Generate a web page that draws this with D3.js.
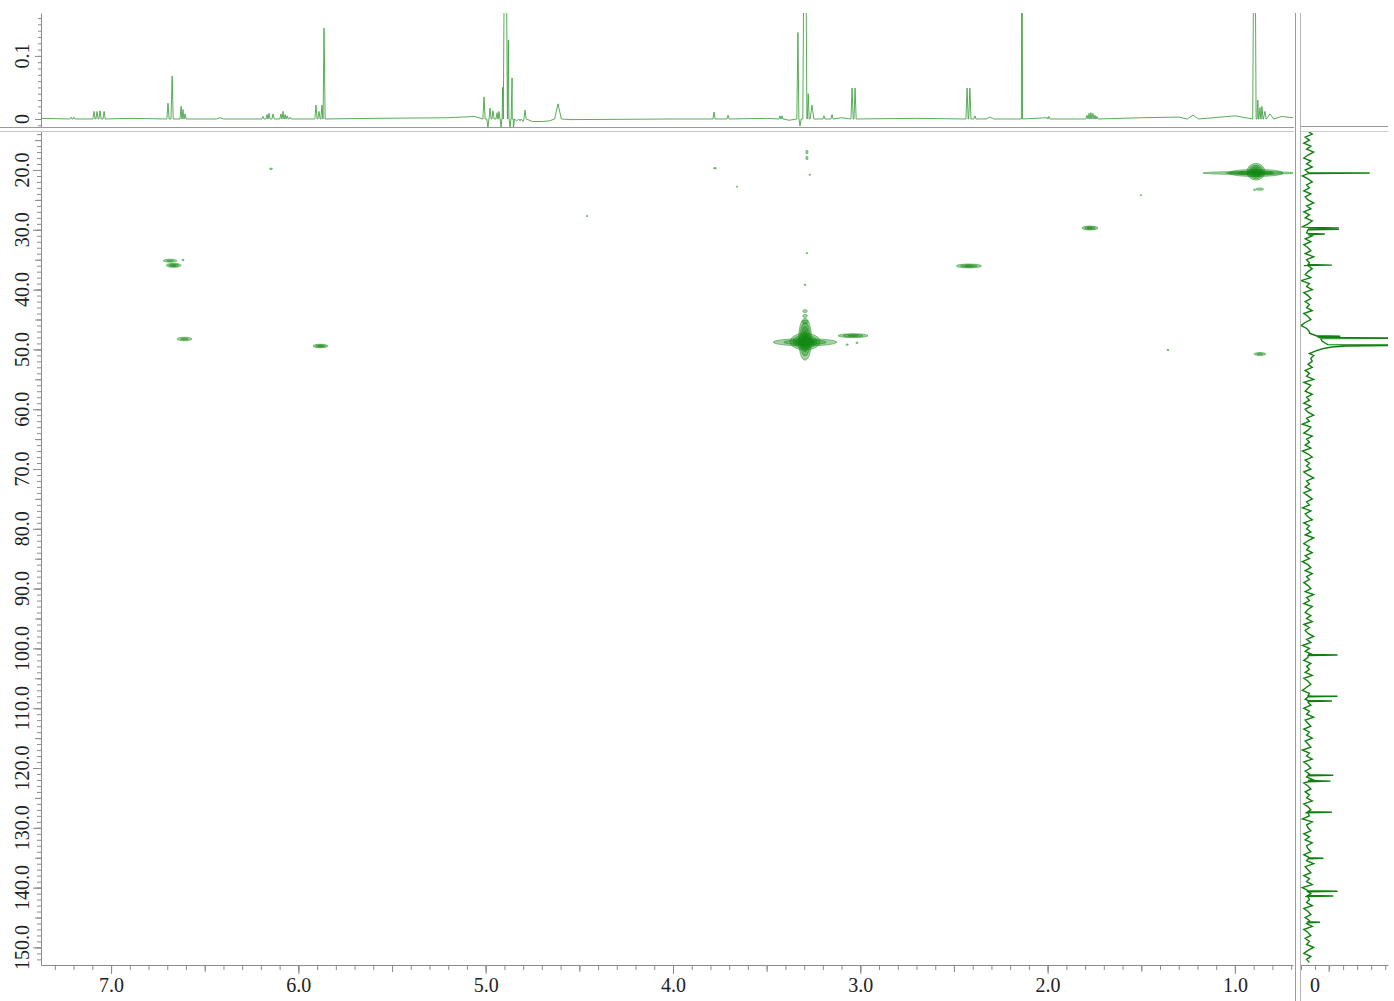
<!DOCTYPE html>
<html>
<head>
<meta charset="utf-8">
<script src="https://cdn.jsdelivr.net/npm/d3@7"></script>
<style>
  body { margin: 0; background: #fff; }
  svg { display: block; }
</style>
</head>
<body>
<div class="chart"></div>
<script>
const width = 1394;
const height = 1001;
const serif = '"Liberation Serif", "DejaVu Serif", serif';

// 1H projection (top trace): baseline points [ppm, intensity]
const hBaseline = [
  [7.374, 0.001], [6.9, 0.001], [6.3, 0.0], [5.6, 0.001], [5.2, 0.002], [5.06, 0.004],
  [4.835, -0.003], [4.80, -0.004], [4.75, -0.004], [4.70, -0.004], [4.66, -0.003],
  [4.55, -0.001], [4.0, 0.0], [3.5, 0.001], [3.38, -0.002],
  [3.1, 0.002], [2.7, 0.001], [2.0, 0.002], [1.5, 0.002], [1.3, 0.003], [1.0, 0.005],
  [0.75, 0.004], [0.69, 0.002]
];
// 1H peaks [ppm, height, half base width]
const hPeaks = [
  [7.214, 0.003], [7.198, 0.003],
  [7.091, 0.012], [7.075, 0.012], [7.059, 0.013], [7.037, 0.012],
  [6.696, 0.025], [6.674, 0.068], [6.626, 0.02], [6.616, 0.015], [6.605, 0.008],
  [6.418, 0.002, 0.02],
  [6.189, 0.004], [6.167, 0.007], [6.157, 0.009], [6.135, 0.008], [6.093, 0.008],
  [6.082, 0.012], [6.071, 0.007], [6.060, 0.005], [6.044, 0.003],
  [5.906, 0.022], [5.890, 0.012], [5.874, 0.022], [5.863, 0.144],
  [5.009, 0.035], [4.988, -0.013], [4.977, 0.017], [4.961, 0.013], [4.939, 0.010],
  [4.929, 0.012], [4.918, -0.013], [4.910, 0.05, 0.004], [4.895, 0.5, 0.011],
  [4.879, 0.125, 0.004], [4.870, -0.013], [4.859, 0.065], [4.852, -0.015],
  [4.817, -0.003], [4.790, 0.014],
  [4.614, 0.024, 0.018],
  [3.781, 0.011], [3.706, 0.006],
  [3.429, 0.005], [3.418, 0.005],
  [3.333, 0.137], [3.322, -0.011], [3.296, 0.5, 0.011], [3.278, 0.04, 0.005],
  [3.258, 0.022, 0.01], [3.194, 0.005], [3.151, 0.007],
  [3.044, 0.049], [3.028, 0.049],
  [2.430, 0.049], [2.415, 0.049], [2.388, 0.005],
  [2.308, 0.003, 0.02],
  [2.137, 0.5, 0.003],
  [1.993, 0.004],
  [1.790, 0.006], [1.779, 0.009], [1.769, 0.010], [1.758, 0.009], [1.747, 0.006], [1.737, 0.004],
  [1.224, 0.006, 0.03],
  [0.896, 0.5, 0.009], [0.878, 0.03, 0.004], [0.866, 0.018], [0.856, 0.02],
  [0.840, 0.012, 0.008], [0.813, 0.008, 0.02]
];

// 13C projection (right trace): noise from 13.5 ppm in 0.5 ppm steps
const cNoiseStart = 13.5;
const cNoiseStep = 0.5;
const cNoise = [
  -0.5,-0.2,-0.7,-0.4,-0.8,-0.3,-0.6,-0.1,-0.5,-0.8,-0.3,-0.6,-0.2,-0.7,-0.4,-0.9,-0.5,-0.2,-0.6,-0.4,
  -0.8,-0.3,-0.7,-0.5,-0.1,-0.6,-0.3,-0.8,-0.4,-0.7,-0.2,-0.5,-0.9,-0.4,-0.6,-0.2,-0.7,-0.3,-0.8,-0.5,
  -0.3,-0.7,-0.1,-0.6,-0.4,-0.8,-0.2,-0.5,-0.7,-0.3,-1.0,-0.4,-0.6,-0.2,-0.8,-0.5,-0.3,-0.7,-0.4,-0.6,
  -0.2,-0.8,-0.5,-0.3,-0.7,-1.0,-0.6,-0.4,-0.9,-0.3,-0.5,-0.8,-0.2,-0.6,-0.4,-0.1,-0.3,-0.2,-0.5,-0.2,
  -0.7,-0.4,-0.6,-0.1,-0.8,-0.3,-0.5,-0.7,-0.2,-0.6,-0.4,-0.8,-0.3,-0.7,-0.5,-0.1,-0.6,-0.4,-0.9,-0.3,
  -0.5,-0.8,-0.2,-0.6,-0.4,-0.7,-0.3,-0.9,-0.5,-0.2,-0.7,-0.4,-0.6,-0.3,-0.8,-0.5,-0.1,-0.6,-0.4,-0.7,
  -0.3,-0.8,-0.5,-0.2,-0.6,-0.4,-0.9,-0.3,-0.7,-0.5,-0.2,-0.8,-0.4,-0.6,-0.3,-0.7,-0.1,-0.5,-0.8,-0.4,
  -0.6,-0.2,-0.7,-0.4,-0.9,-0.5,-0.3,-0.7,-0.2,-0.6,-0.4,-0.8,-0.5,-0.3,-0.7,-0.1,-0.6,-0.4,-0.8,-0.2,
  -0.5,-0.7,-0.3,-0.6,-0.2,-0.8,-0.4,-0.7,-0.5,-0.1,-0.6,-0.3,-0.9,-0.4,-0.7,-0.2,-0.5,-0.8,-0.3,-0.6,
  -0.4,-0.7,-0.2,-0.8,-0.5,-0.3,-0.6,-0.9,-0.4,-0.2,-0.7,-0.5,-0.3,-0.8,-0.4,-0.6,-0.1,-0.7,-0.5,-0.3,
  -0.8,-0.4,-0.6,-0.2,-0.7,-0.5,-0.3,-0.9,-0.4,-0.6,-0.2,-0.8,-0.5,-0.3,-0.7,-0.4,-0.6,-0.1,-0.8,-0.5,
  -0.3,-0.7,-0.4,-0.6,-0.2,-0.8,-0.5,-0.3,-0.7,-0.4,-0.9,-0.2,-0.6,-0.5,-0.3,-0.8,-0.4,-0.7,-0.2,-0.6,
  -0.5,-0.3,-0.8,-0.4,-0.6,-0.1,-0.7,-0.5,-0.3,-0.8,-0.4,-0.6,-0.2,-0.9,-0.5,-0.3,-0.7,-0.4,-0.6,-0.2,
  -0.8,-0.5,-0.3,-0.7,-0.4,-0.6,-0.2,-0.8,-0.5,-0.3,-0.7,-0.4,-0.6,-0.1,-0.5,-0.8,-0.3,-0.6,-0.4
];
// 13C peaks [ppm, intensity]
const cPeaks = [
  [20.5, 3.9], [29.7, 1.7], [29.9, 1.7], [30.7, 0.7], [35.9, 1.2],
  [101.1, 1.6], [108.0, 1.6], [108.8, 1.2], [121.2, 1.3], [122.2, 1.1],
  [127.4, 1.2], [135.1, 0.6], [140.6, 1.6], [141.4, 1.3], [145.8, 0.35]
];
// solvent region of the 13C trace [ppm, intensity]
const cSolvent = [
  [47.3, -0.4], [47.55, -0.1], [47.72, 0.1], [47.8, 1.8], [47.88, 0.2], [48.02, 0.3],
  [48.1, 9], [48.18, 0.4], [48.6, 0.5], [49.2, 0.9], [49.3, 9], [49.42, 2.2],
  [49.6, 1.2], [49.85, 0.6], [50.2, 0.1], [50.7, -0.4]
];

// HSQC cross peaks [dH, dC, half width H, half width C, contour levels]
const crossPeaks = [
  [0.926, 20.5, 0.245, 0.25, 2],
  [0.888, 20.5, 0.145, 0.6, 3],
  [0.888, 20.3, 0.048, 1.4, 5],
  [0.867, 23.2, 0.02, 0.2, 1],
  [0.895, 23.3, 0.006, 0.12, 1],
  [1.774, 29.7, 0.043, 0.33, 3],
  [2.420, 36.05, 0.067, 0.33, 3],
  [6.685, 35.17, 0.037, 0.25, 2],
  [6.666, 35.94, 0.04, 0.33, 3],
  [6.616, 35.05, 0.006, 0.12, 1],
  [6.608, 48.26, 0.04, 0.3, 2],
  [5.882, 49.43, 0.04, 0.3, 3],
  [3.295, 48.8, 0.17, 0.6, 3],
  [3.295, 48.3, 0.035, 3.5, 5],
  [3.295, 48.7, 0.08, 1.4, 5],
  [3.295, 45.4, 0.015, 0.3, 1],
  [3.295, 44.4, 0.012, 0.25, 1],
  [3.295, 43.6, 0.012, 0.25, 1],
  [3.295, 39.2, 0.005, 0.12, 1],
  [3.039, 47.7, 0.08, 0.33, 3],
  [3.018, 48.9, 0.006, 0.12, 1],
  [3.07, 49.2, 0.006, 0.12, 1],
  [0.867, 50.77, 0.032, 0.25, 2],
  [6.146, 19.8, 0.008, 0.12, 1],
  [3.776, 19.7, 0.008, 0.12, 1],
  [3.658, 22.8, 0.004, 0.1, 1],
  [4.459, 27.7, 0.004, 0.1, 1],
  [1.502, 24.2, 0.004, 0.1, 1],
  [1.358, 50.1, 0.006, 0.1, 1],
  [3.285, 33.9, 0.004, 0.12, 1],
  [3.27, 20.8, 0.004, 0.12, 1],
  [3.285, 17.0, 0.006, 0.3, 1],
  [3.285, 18.0, 0.006, 0.3, 1]
];

// axis labels
const hLabels = [7, 6, 5, 4, 3, 2, 1];
const cLabels = [20, 30, 40, 50, 60, 70, 80, 90, 100, 110, 120, 130, 140, 150];
const topLabels = [0, 0.1];

const svg = d3.select('.chart')
  .append('svg')
  .attr('width', width)
  .attr('height', height);

const axisColor = '#8c8c8c';
const green = '#138813';

// Scales
const xScale = d3.scaleLinear().domain([7.374, 0.69]).range([41, 1293]);
const yScale = d3.scaleLinear().domain([13.48, 152.94]).range([131, 965]);
const yTop = d3.scaleLinear().domain([-0.0127, 0.168]).range([127, 13]);
const xProj = d3.scaleLinear().domain([-1, 5.2]).range([1301, 1388]);

const defs = svg.append('defs');
defs.append('clipPath').attr('id', 'clip-top')
  .append('rect').attr('x', 41).attr('y', 13).attr('width', 1252).attr('height', 114);
defs.append('clipPath').attr('id', 'clip-main')
  .append('rect').attr('x', 42).attr('y', 132).attr('width', 1251).attr('height', 833);
defs.append('clipPath').attr('id', 'clip-proj')
  .append('rect').attr('x', 1301).attr('y', 132).attr('width', 87).attr('height', 833);

function tidy(g) {
  g.selectAll('path, line').attr('stroke', axisColor);
  g.selectAll('text').remove();
}

// Main x axis (1H)
const xMinor = d3.range(7, 74).map((i) => i / 10);
const xHalf = d3.range(1, 15).map((i) => i / 2);
svg.append('g').attr('transform', 'translate(0, 965)')
  .call(d3.axisBottom(xScale).tickValues(xMinor).tickSize(5).tickSizeOuter(0).tickFormat(''))
  .call(tidy);
svg.append('g').attr('transform', 'translate(0, 965)')
  .call(d3.axisBottom(xScale).tickValues(xHalf).tickSize(7).tickFormat(''))
  .call(tidy)
  .call((g) => g.select('.domain').remove());
svg.append('g').attr('transform', 'translate(0, 965)')
  .call(d3.axisBottom(xScale).tickValues(hLabels).tickSize(9).tickPadding(4).tickFormat(d3.format('.1f')))
  .call((g) => g.select('.domain').remove())
  .call((g) => g.selectAll('line').attr('stroke', axisColor))
  .call((g) => g.selectAll('text').attr('fill', '#222').style('font-size', '20px').style('font-family', serif));

// Main y axis (13C)
const yMinor = d3.range(14, 153);
const yFive = d3.range(15, 153, 5);
svg.append('g').attr('transform', 'translate(41, 0)')
  .call(d3.axisLeft(yScale).tickValues(yMinor).tickSize(4).tickSizeOuter(0).tickFormat(''))
  .call(tidy);
svg.append('g').attr('transform', 'translate(41, 0)')
  .call(d3.axisLeft(yScale).tickValues(yFive).tickSize(6).tickFormat(''))
  .call(tidy)
  .call((g) => g.select('.domain').remove());
svg.append('g').attr('transform', 'translate(41, 0)')
  .call(d3.axisLeft(yScale).tickValues(cLabels).tickSize(8).tickFormat(''))
  .call(tidy)
  .call((g) => g.select('.domain').remove());
svg.append('g').selectAll('text')
  .data(cLabels)
  .join('text')
  .attr('transform', (d) => `translate(29, ${yScale(d)}) rotate(-90)`)
  .attr('text-anchor', 'middle')
  .attr('fill', '#222')
  .style('font-size', '20px')
  .style('font-family', serif)
  .text(d3.format('.1f'));

// Top axis (1H intensity)
const topMinor = d3.range(-1, 17).map((i) => i / 100);
svg.append('g').attr('transform', 'translate(41, 0)')
  .call(d3.axisLeft(yTop).tickValues(topMinor).tickSize(3).tickSizeOuter(0).tickFormat(''))
  .call(tidy);
svg.append('g').attr('transform', 'translate(41, 0)')
  .call(d3.axisLeft(yTop).tickValues(topLabels).tickSize(6).tickFormat(''))
  .call(tidy)
  .call((g) => g.select('.domain').remove());
svg.append('g').selectAll('text')
  .data(topLabels)
  .join('text')
  .attr('transform', (d) => `translate(29, ${yTop(d)}) rotate(-90)`)
  .attr('text-anchor', 'middle')
  .attr('fill', '#222')
  .style('font-size', '20px')
  .style('font-family', serif)
  .text((d) => String(d));

// Projection axis
svg.append('g').attr('transform', 'translate(0, 965)')
  .call(d3.axisBottom(xProj).tickValues(d3.range(-1, 6)).tickSize(5).tickSizeOuter(0).tickFormat(''))
  .call(tidy);
svg.append('text')
  .attr('x', xProj(0))
  .attr('y', 992)
  .attr('text-anchor', 'middle')
  .attr('fill', '#222')
  .style('font-size', '20px')
  .style('font-family', serif)
  .text('0');

// Separator lines
svg.append('line').attr('x1', 0).attr('x2', 1294).attr('y1', 127.5).attr('y2', 127.5).attr('stroke', '#9a9a9a');
svg.append('line').attr('x1', 0).attr('x2', 1294).attr('y1', 131.5).attr('y2', 131.5).attr('stroke', '#c6c6c6');
svg.append('line').attr('x1', 1295.5).attr('x2', 1295.5).attr('y1', 13).attr('y2', 1001).attr('stroke', '#9a9a9a');
svg.append('line').attr('x1', 1300.5).attr('x2', 1300.5).attr('y1', 13).attr('y2', 1001).attr('stroke', '#b4b4b4');
svg.append('line').attr('x1', 1301).attr('x2', 1388).attr('y1', 126.5).attr('y2', 126.5).attr('stroke', '#9a9a9a');
svg.append('line').attr('x1', 1301).attr('x2', 1388).attr('y1', 131.5).attr('y2', 131.5).attr('stroke', '#d0d0d0');

// Top 1H trace
const hPoints = hBaseline.slice();
hPeaks.forEach(([p, h, w = 0.006]) => {
  hPoints.push([p + w, 0], [p, h], [p - w, 0]);
});
hPoints.sort((a, b) => b[0] - a[0]);

svg.append('path')
  .datum(hPoints)
  .attr('clip-path', 'url(#clip-top)')
  .attr('fill', 'none')
  .attr('stroke', '#46a346')
  .attr('stroke-width', 0.9)
  .attr('d', d3.line().x((d) => xScale(d[0])).y((d) => yTop(d[1])));

// Right 13C trace
const cPoints = cNoise
  .map((v, i) => [cNoiseStart + i * cNoiseStep, v])
  .filter((d) => d[0] < 47.3 || d[0] > 50.7);
cPeaks.forEach(([p, h]) => {
  cPoints.push([p - 0.1, -0.5], [p, h], [p + 0.1, -0.5]);
});
cSolvent.forEach((d) => cPoints.push(d));
cPoints.sort((a, b) => a[0] - b[0]);

svg.append('path')
  .datum(cPoints)
  .attr('clip-path', 'url(#clip-proj)')
  .attr('fill', 'none')
  .attr('stroke', '#0f800f')
  .attr('stroke-width', 1.4)
  .attr('d', d3.line().x((d) => xProj(d[1])).y((d) => yScale(d[0])));

// HSQC cross peaks as stacked contour rings
const rings = [];
crossPeaks.forEach(([h, c, wh, wc, n]) => {
  for (let k = 0; k < n; k++) {
    rings.push({ h, c, wh, wc, f: 1 - k / n });
  }
});

svg.append('g')
  .attr('clip-path', 'url(#clip-main)')
  .selectAll('ellipse')
  .data(rings)
  .join('ellipse')
  .attr('cx', (d) => xScale(d.h))
  .attr('cy', (d) => yScale(d.c))
  .attr('rx', (d) => Math.max(0.6, Math.abs(xScale(d.h + d.wh) - xScale(d.h)) * d.f))
  .attr('ry', (d) => Math.max(0.6, Math.abs(yScale(d.c + d.wc) - yScale(d.c)) * d.f))
  .attr('fill', green)
  .attr('fill-opacity', 0.38)
  .attr('stroke', green)
  .attr('stroke-opacity', 0.8)
  .attr('stroke-width', 0.6);
</script>
</body>
</html>
